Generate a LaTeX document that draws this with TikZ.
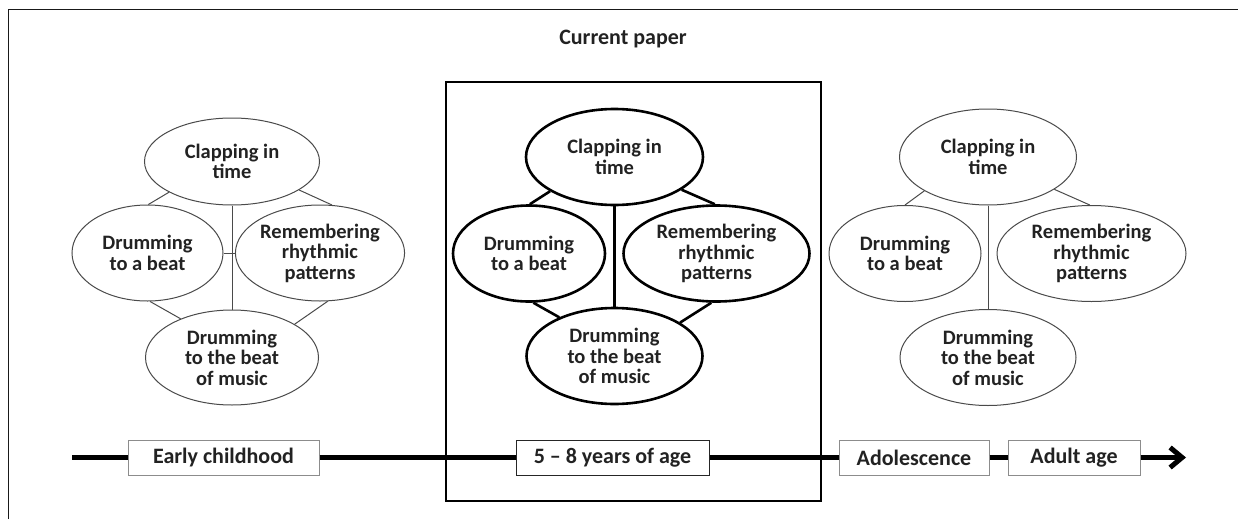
\documentclass[tikz,border=0pt]{standalone}
\usepackage{fontspec}
\setmainfont{Carlito}
\usetikzlibrary{shapes.geometric,arrows.meta}
\definecolor{txtgray}{HTML}{222222}
\definecolor{linegray}{HTML}{4A4A4A}
\definecolor{boxgray}{HTML}{8C8C8C}
\begin{document}
\begin{tikzpicture}[x=1pt, y=-1pt, text=txtgray, font=\fontsize{20.5}{20.5}\selectfont\bfseries,
    bubble/.style={ellipse, draw=linegray, line width=1pt, inner sep=0pt, align=center},
    boldbubble/.style={ellipse, draw=black, line width=2.6pt, inner sep=0pt, align=center},
    thinlink/.style={draw=linegray, line width=1pt},
    boldlink/.style={draw=black, line width=2.6pt},
    agebox/.style={draw=boxgray, line width=1pt, fill=white, inner sep=0pt, minimum height=35pt, font=\fontsize{22}{22}\selectfont\bfseries},
    timeline/.style={draw=black, line width=5pt}]
    \useasboundingbox (0,0) rectangle (1238,519);
    \draw[black!90, line width=1.5pt] (8.5,519) -- (8.5,9.5) -- (1238,9.5);
    \node[font=\fontsize{22}{22}\selectfont\bfseries] (cur) at (623,39) {Current paper};
    \draw[black, line width=1.8pt] (446,82) rectangle (821,501);
    \node[bubble, minimum width=175pt, minimum height=87pt] (lt) at (232,161.5) {Clapping in\\time};
    \node[bubble, minimum width=151pt, minimum height=96pt] (ll) at (147.5,253) {Drumming\\to a beat};
    \node[bubble, minimum width=160pt, minimum height=96pt] (lr) at (320,253) {Remembering\\rhythmic\\patterns};
    \node[bubble, minimum width=173pt, minimum height=95pt] (lb) at (232,357.5) {Drumming\\to the beat\\of music};
    \draw[thinlink] (lt.south) -- (lb.north);
    \draw[thinlink] (ll.east) -- (lr.west);
    \draw[thinlink] (lt.206) -- (ll.89);
    \draw[thinlink] (lt.337) -- (lr.76);
    \draw[thinlink] (ll.273) -- (lb.143);
    \draw[thinlink] (lr.279) -- (lb.28);
    \node[boldbubble, minimum width=177pt, minimum height=96pt] (mt) at (614.5,157) {Clapping in\\time};
    \node[boldbubble, minimum width=152pt, minimum height=96pt] (ml) at (529,253.5) {Drumming\\to a beat};
    \node[boldbubble, minimum width=186pt, minimum height=96pt] (mr) at (716.5,253.5) {Remembering\\rhythmic\\patterns};
    \node[boldbubble, minimum width=176pt, minimum height=96pt] (mb) at (614.5,356) {Drumming\\to the beat\\of music};
    \draw[boldlink] (mt.south) -- (mb.north);
    \draw[boldlink] (mt.208) -- (ml.89);
    \draw[boldlink] (mt.334) -- (mr.92);
    \draw[boldlink] (ml.275) -- (mb.145);
    \draw[boldlink] (mr.264) -- (mb.27);
    \node[bubble, minimum width=177pt, minimum height=96pt] (rt) at (988,157) {Clapping in\\time};
    \node[bubble, minimum width=152pt, minimum height=96pt] (rl) at (905,253.5) {Drumming\\to a beat};
    \node[bubble, minimum width=189pt, minimum height=96pt] (rr) at (1091.5,253.5) {Remembering\\rhythmic\\patterns};
    \node[bubble, minimum width=176pt, minimum height=96pt] (rb) at (988,357.5) {Drumming\\to the beat\\of music};
    \draw[thinlink] (rt.south) -- (rb.north);
    \draw[thinlink] (rt.208) -- (rl.90);
    \draw[thinlink] (rt.334) -- (rr.92);
    \coordinate (tstart) at (72,457.5);
    \coordinate (tend) at (1186,457.5);
    \node[agebox, minimum width=191pt] (early) at (223.5,457.5) {Early childhood};
    \node[agebox, minimum width=193pt, draw=black!85] (school) at (612.5,457.5) {5 -- 8 years of age};
    \node[agebox, minimum width=150pt] (adol) at (914,457.5) {Adolescence};
    \node[agebox, minimum width=132pt] (adult) at (1074,457.5) {Adult age};
    \draw[timeline] (tstart) -- (early.west);
    \draw[timeline] (early.east) -- (school.west);
    \draw[timeline] (school.east) -- (adol.west);
    \draw[timeline] (adol.east) -- (adult.west);
    \draw[timeline, -{Straight Barb[length=12pt, width=20pt]}] (adult.east) -- (tend);
\end{tikzpicture}
\end{document}
